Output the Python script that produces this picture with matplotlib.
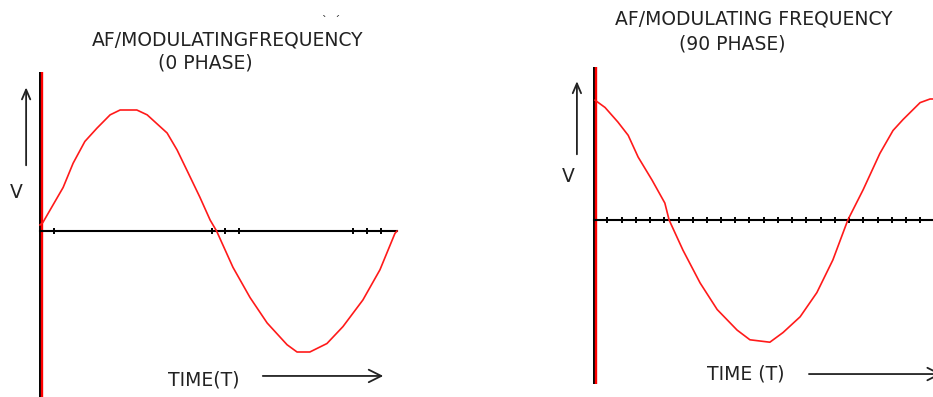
import numpy as np
import matplotlib.pyplot as plt
from matplotlib.transforms import ScaledTranslation

# values: time in periods, voltage in amplitudes
t_0phase = [0.0, 0.008, 0.065, 0.093, 0.126, 0.160, 0.197, 0.225, 0.272, 0.301,
            0.357, 0.385, 0.413, 0.449, 0.478, 0.496, 0.542, 0.590, 0.638, 0.694,
            0.722, 0.758, 0.806, 0.851, 0.907, 0.955, 0.997, 1.003]
v_0phase = [0.05, 0.07, 0.36, 0.56, 0.74, 0.85, 0.96, 1.0, 1.0, 0.96,
            0.81, 0.67, 0.50, 0.28, 0.09, 0.0, -0.30, -0.55, -0.76, -0.94,
            -1.0, -1.0, -0.93, -0.79, -0.57, -0.32, -0.02, 0.0]

t_90phase = [0.003, 0.031, 0.067, 0.096, 0.124, 0.163, 0.199, 0.211, 0.250, 0.298,
             0.346, 0.402, 0.438, 0.494, 0.531, 0.579, 0.626, 0.671, 0.713, 0.756,
             0.803, 0.840, 0.868, 0.916, 0.944, 0.952]
v_90phase = [0.99, 0.93, 0.81, 0.70, 0.52, 0.33, 0.14, 0.0, -0.25, -0.52,
             -0.74, -0.91, -0.99, -1.01, -0.93, -0.80, -0.60, -0.33, 0.0, 0.25,
             0.55, 0.74, 0.83, 0.97, 1.0, 1.0]

ticks_0phase = [0.039, 0.483, 0.520, 0.559, 0.879, 0.919, 0.958]
ticks_90phase = [0.037, 0.078, 0.118, 0.157, 0.197, 0.239, 0.277, 0.317, 0.357,
                 0.396, 0.436, 0.477, 0.517, 0.556, 0.596, 0.637, 0.677, 0.716,
                 0.756, 0.797, 0.837, 0.876, 0.916]

W, H = 933, 397
fig = plt.figure(figsize=(W / 100, H / 100), dpi=100)
fig.patch.set_facecolor('white')

def panel(left_px, x0_px, y0_px, vtop, vbot, t, v, ticks, up_arrow, time_arrow):
    # axes covering half the picture, 356 px per period, 121 px per amplitude
    ax = fig.add_axes([left_px / W, 0, (W / 2) / W, 1])
    sx, sy = 356, 121
    ax.set_xlim((left_px - x0_px) / sx, (left_px + W / 2 - x0_px) / sx)
    ax.set_ylim(-(H - y0_px) / sy, y0_px / sy)
    ax.axis('off')

    # vertical axis: black with red beside it
    shift = ScaledTranslation(1.8 / 100, 0, fig.dpi_scale_trans)
    ax.plot([0, 0], [vbot, vtop], color='black', lw=1.4, solid_capstyle='butt')
    ax.plot([0, 0], [vbot, vtop], color='#ff0000', lw=1.7,
            transform=ax.transData + shift, solid_capstyle='butt')

    # time axis
    ax.plot([0, max(t)], [0, 0], color='black', lw=1.5)
    ax.plot(ticks, np.zeros(len(ticks)), ls='none', marker='|', ms=5, mew=1.4, color='black')

    # wave
    ax.plot(t, v, color='#ff1a1a', lw=1.2)

    # arrows
    ax.annotate('', xy=(up_arrow[0], up_arrow[2]), xytext=(up_arrow[0], up_arrow[1]),
                arrowprops=dict(arrowstyle='->,head_length=0.7,head_width=0.3',
                                color='#222222', lw=1.3))
    ax.annotate('', xy=(time_arrow[1], time_arrow[2]), xytext=(time_arrow[0], time_arrow[2]),
                arrowprops=dict(arrowstyle='->,head_length=0.9,head_width=0.45',
                                color='#222222', lw=1.3), annotation_clip=False)
    return ax

panel(0, 40, 231, 1.314, -1.4, t_0phase, v_0phase, ticks_0phase,
      (-0.039, 0.52, 1.21), (0.618, 0.972, -1.198))
panel(W / 2, 594, 220, 1.264, -1.355, t_90phase, v_90phase, ticks_90phase,
      (-0.048, 0.52, 1.17), (0.596, 0.985, -1.273))

def label(x, y, s, size=13.5):
    fig.text(x / W, 1 - y / H, s, ha='center', va='center', fontsize=size,
             color='#222222')

label(228, 40, 'AF/MODULATINGFREQUENCY')
label(205, 63, '(0 PHASE)')
label(331, 21, 'ˋ  ˊ', size=8)
label(16, 193, 'V')
label(204, 380, 'TIME(T)')

label(754, 19, 'AF/MODULATING FREQUENCY')
label(732, 44, '(90 PHASE)')
label(568, 176, 'V')
label(746, 374, 'TIME (T)')

fig.savefig('out.png', dpi=100)
